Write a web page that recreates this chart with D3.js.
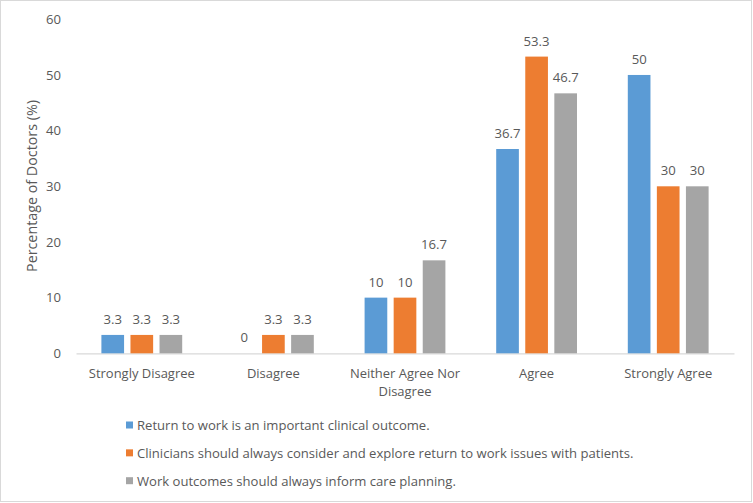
<!DOCTYPE html>
<html><head><meta charset="utf-8">
<script src="https://cdn.jsdelivr.net/npm/d3@7"></script>
<style>
body{margin:0;background:#fff;}
svg text{font-family:"Open Sans","Noto Sans",sans-serif;fill:#595959;}
</style></head>
<body>
<svg id="c" width="753" height="503"></svg>
<script>
const categories = ["Strongly Disagree","Disagree","Neither Agree Nor Disagree","Agree","Strongly Agree"];
const seriesNames = [
  "Return to work is an important clinical outcome.",
  "Clinicians should always consider and explore return to work issues with patients.",
  "Work outcomes should always inform care planning."
];
const seriesColors = ["#5B9BD5","#ED7D31","#A5A5A5"];
const returnToWork = [3.3, 0, 10, 36.7, 50];
const clinicians = [3.3, 3.3, 10, 53.3, 30];
const workOutcomes = [3.3, 3.3, 16.7, 46.7, 30];
const yTicks = [0,10,20,30,40,50,60];
const seriesValues = [returnToWork, clinicians, workOutcomes];

const svg = d3.select("#c");
svg.append("rect").attr("x",0.5).attr("y",0.5).attr("width",751).attr("height",501)
  .attr("fill","#fff").attr("stroke","#d9d9d9");

// font size calibration: size that gives a text a given width
function fit(str, w){
  const t = svg.append("text").style("font-size","100px").text(str);
  const l = t.node().getComputedTextLength();
  t.remove();
  return 100*w/l;
}
const fsCat = fit("Strongly Disagree",106);
const fsLeg = fit(seriesNames[0],293);
const fsYl = fit("Percentage of Doctors (%)",172);
const fsVal = fit("53.3",26);
const fsTick = fit("60",15);

const x0 = d3.scaleBand().domain(categories).range([76,734]).padding(0);
const bw = x0.bandwidth();
const x1 = d3.scaleBand().domain(d3.range(3)).range([bw*0.193, bw*0.807]).paddingInner(0.22);
const y = d3.scaleLinear().domain([0,60]).range([353.3,19.3]);

// y axis
const ya = svg.append("g").attr("transform","translate(61,0)")
  .call(d3.axisLeft(y).tickValues(yTicks).tickSize(0).tickPadding(0));
ya.select(".domain").remove();
ya.selectAll("text").style("font-size",fsTick+"px").attr("fill","#595959").style("font-family",null);

// x axis
const xa = svg.append("g").attr("transform","translate(0,353.3)")
  .call(d3.axisBottom(x0).tickSize(0).tickFormat(""));
xa.select(".domain").attr("stroke","#d9d9d9").attr("stroke-width",1.3);

// category labels
categories.forEach(c=>{
  const lines = c==="Neither Agree Nor Disagree" ? ["Neither Agree Nor","Disagree"] : [c];
  lines.forEach((l,i)=>{
    svg.append("text").attr("x",x0(c)+bw/2).attr("y",377.5+i*18.5)
      .attr("text-anchor","middle").style("font-size",fsCat+"px").text(l);
  });
});

// bars
const g = svg.append("g");
seriesValues.forEach((vals,si)=>{
  g.selectAll(null).data(vals).join("rect")
    .attr("x",(d,i)=>x0(categories[i])+x1(si))
    .attr("width",x1.bandwidth())
    .attr("y",d=>y(d))
    .attr("height",d=>y(0)-y(d))
    .attr("fill",seriesColors[si]);
  g.selectAll(null).data(vals).join("text")
    .attr("x",(d,i)=>x0(categories[i])+x1(si)+x1.bandwidth()/2)
    .attr("y",d=>y(d)-11)
    .attr("text-anchor","middle").style("font-size",fsVal+"px")
    .text(d=>d);
});

// y label
svg.append("text").attr("transform","translate(37,186) rotate(-90)")
  .attr("text-anchor","middle").style("font-size",fsYl+"px").text("Percentage of Doctors (%)");

// legend
seriesNames.forEach((n,i)=>{
  const cy = 425 + i*27.85;
  svg.append("rect").attr("x",126).attr("y",cy-3.5).attr("width",7).attr("height",7).attr("fill",seriesColors[i]);
  svg.append("text").attr("x",137).attr("y",cy+5).style("font-size",fsLeg+"px").text(n);
});
</script>
</body></html>
